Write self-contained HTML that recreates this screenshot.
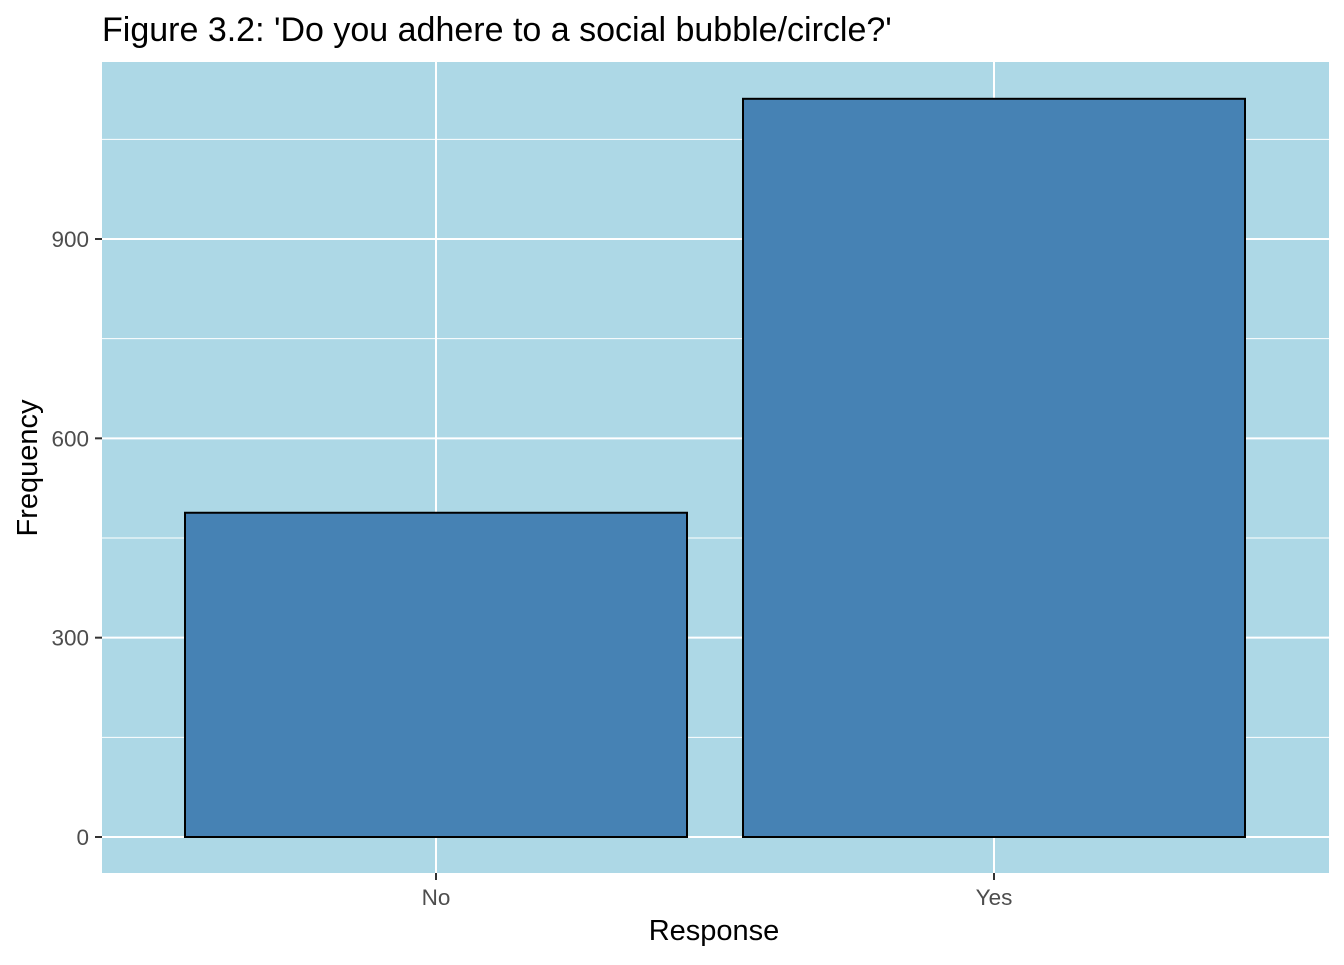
<!DOCTYPE html>
<html><head><meta charset="utf-8"><style>
body{margin:0;background:#fff;font-family:"Liberation Sans",Arial,sans-serif}
</style></head><body>
<svg id="c" width="1344" height="960" xmlns="http://www.w3.org/2000/svg">
<text x="102" y="41" font-size="34" fill="#000" font-family="Liberation Sans, sans-serif">Figure 3.2: 'Do you adhere to a social bubble/circle?'</text>
<rect x="102" y="62" width="1227" height="811" fill="#add8e6"/>
<g id="grid"></g><g id="bars"></g><g id="axes"></g>
<text x="714" y="940" text-anchor="middle" font-size="29">Response</text>
<text transform="translate(37,468) rotate(-90)" text-anchor="middle" font-size="29">Frequency</text>
</svg>
<script>
const categories=["No","Yes"];
const values=[488,1111];
const yTicks=[0,300,600,900];
const yMinor=[150,450,750,1050];
const ns="http://www.w3.org/2000/svg";
const y=v=>837-v*(598/900);
const x0=102,step=558,xc=i=>436+i*step;
function mk(t,a,p){const e=document.createElementNS(ns,t);for(const k in a)e.setAttribute(k,a[k]);p.appendChild(e);return e;}
const g=document.getElementById('grid'),b=document.getElementById('bars'),ax=document.getElementById('axes');
yMinor.forEach(v=>{const l=mk('line',{x1:102,x2:1329,y1:y(v),y2:y(v),stroke:'#fff','stroke-width':1},g);

});
yTicks.forEach(v=>{const l=mk('line',{x1:102,x2:1329,y1:y(v),y2:y(v),stroke:'#fff','stroke-width':2},g);


const t=mk('line',{x1:95,x2:102,y1:y(v),y2:y(v),stroke:'#333','stroke-width':2},ax);


const tx=mk('text',{x:89,y:y(v)+8,'text-anchor':'end','font-size':22.5,fill:'#4d4d4d'},ax);tx.textContent=v;

});
categories.forEach((c,i)=>{const l=mk('line',{x1:xc(i),x2:xc(i),y1:62,y2:873,stroke:'#fff','stroke-width':2},g);


const r=mk('rect',{x:xc(i)-251,y:y(values[i]),width:502,height:y(0)-y(values[i]),fill:'#4682b4',stroke:'#000','stroke-width':2},b);


const t=mk('line',{x1:xc(i),x2:xc(i),y1:873,y2:880,stroke:'#333','stroke-width':2},ax);


const tx=mk('text',{x:xc(i),y:905,'text-anchor':'middle','font-size':22.5,fill:'#4d4d4d'},ax);tx.textContent=c;

});
</script>
</body></html>
